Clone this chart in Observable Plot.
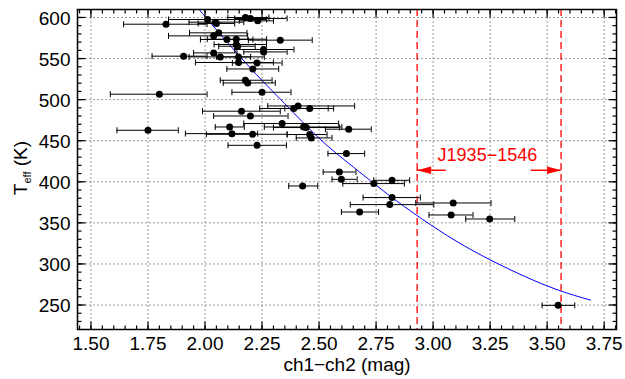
<!DOCTYPE html>
<html><head><meta charset="utf-8">
<script src="https://cdn.jsdelivr.net/npm/d3@7"></script>
<script src="https://cdn.jsdelivr.net/npm/@observablehq/plot@0.6"></script>
<style>
html,body{margin:0;padding:0;background:#fff;}
#chart{width:625px;height:379px;}
</style></head><body><div id="chart"></div>
<script>
// ch1-ch2 colour (mag), Teff (K), error bar extents
const color = [1.829,2.011,2.045,2.050,2.177,2.199,2.231,2.060,2.038,2.096,2.137,2.330,2.137,2.143,2.257,2.257,1.906,2.038,2.067,2.147,2.147,2.228,2.210,2.177,2.187,1.800,2.250,2.408,2.389,2.459,2.160,2.199,2.338,2.432,2.444,2.630,2.108,2.118,2.209,2.459,2.466,2.228,2.620,2.589,2.598,2.428,2.740,2.820,2.820,2.810,3.088,2.678,3.079,3.248,3.548,1.750];
const teff = [591.8,597.5,594.3,592.7,600.0,598.8,595.9,581.3,577.6,573.2,573.6,572.4,567.1,565.0,561.0,558.1,552.9,556.9,552.0,552.0,545.2,544.7,537.3,523.6,520.3,506.6,509.0,492.3,489.2,489.2,485.9,480.1,470.9,466.7,466.0,464.0,466.7,458.6,457.8,457.5,453.4,444.4,434.3,411.9,403.0,394.9,397.8,401.8,380.8,372.2,374.2,363.2,359.6,354.7,249.6,462.7];
const colorLo = [1.643,1.840,1.93,1.97,2.10,2.13,2.15,1.932,1.840,1.98,2.01,2.19,2.04,2.06,2.13,2.17,1.768,1.95,1.93,2.05,1.958,2.12,2.096,2.067,2.08,1.585,2.118,2.275,2.24,2.35,1.989,2.038,2.17,2.26,2.30,2.528,2.045,1.914,2.006,2.36,2.40,2.101,2.539,2.518,2.557,2.367,2.604,2.740,2.693,2.637,2.924,2.598,2.982,3.143,3.478,1.614];
const colorHi = [2.009,2.270,2.17,2.13,2.28,2.36,2.30,2.184,2.187,2.21,2.27,2.47,2.27,2.22,2.39,2.36,2.009,2.14,2.20,2.26,2.30,2.338,2.323,2.294,2.308,2.009,2.377,2.656,2.54,2.564,2.33,2.364,2.586,2.60,2.59,2.729,2.172,2.231,2.36,2.535,2.557,2.357,2.700,2.662,2.667,2.494,2.874,2.897,2.944,3.003,3.254,2.761,3.175,3.358,3.621,1.883];

// fitted relation
const fitColor = [1.97,2.05,2.15,2.25,2.35,2.50,2.65,2.80,2.95,3.10,3.25,3.40,3.55,3.69];
const fitTeff  = [611,585,553.5,523.4,495,453,418,385,355,328,305,285,268,256];

// J1935-1546 colour range markers
const markerColor = [2.930, 3.561];
const markerLabel = "J1935\u22121546";
const labelColor = 3.238, labelTeff = 432;
const arrowTeff = 414;
const leftArrow = [3.058, 2.930];
const rightArrow = [3.430, 3.561];

// axes
const xTickValues = [1.50,1.75,2.00,2.25,2.50,2.75,3.00,3.25,3.50,3.75];
const yTickValues = [250,300,350,400,450,500,550,600];
const xMinor = d3.range(29,77).map(i => i*0.05);
const yMinor = d3.range(23,61).map(i => i*10);
const xTitle = "ch1\u2212ch2 (mag)";

const rows = color.map((c,i) => ({c, t: teff[i], lo: colorLo[i], hi: colorHi[i]}));
const fit = fitColor.map((c,i) => ({c, t: fitTeff[i]}));

const line = (dx1,dy1,dx2,dy2) => ({draw(ctx){ctx.moveTo(dx1,dy1); ctx.lineTo(dx2,dy2);}});
const tri = (dir) => ({draw(ctx){ctx.moveTo(0,0); ctx.lineTo(dir*14,-3.8); ctx.lineTo(dir*14,3.8); ctx.closePath();}});
const tickOpts = {fill: "none", stroke: "black", strokeWidth: 1.2};

const plot = Plot.plot({
  width: 625, height: 379,
  marginLeft: 77, marginRight: 9, marginTop: 9, marginBottom: 50,
  x: {domain: [1.441, 3.804], axis: null},
  y: {domain: [220.2, 609.7], axis: null},
  style: {fontFamily: "'Liberation Sans', Arial, Helvetica, sans-serif", background: "white", color: "black"},
  marks: [
    Plot.ruleX(xTickValues, {x: d => d, stroke: "#9a9a9a", strokeDasharray: "2,2"}),
    Plot.ruleY(yTickValues, {y: d => d, stroke: "#9a9a9a", strokeDasharray: "2,2"}),
    Plot.line(fit, {x: "c", y: "t", curve: "natural", stroke: "#0000ff", strokeWidth: 1, clip: true}),
    Plot.ruleX(markerColor, {x: d => d, stroke: "#ff0000", strokeWidth: 1.3, strokeDasharray: "7,4"}),
    Plot.ruleY(rows, {y: "t", x1: "lo", x2: "hi", stroke: "black", strokeWidth: 1}),
    Plot.dot(rows, {x: "lo", y: "t", symbol: line(0,-3,0,3), fill: "none", stroke: "black", strokeWidth: 1}),
    Plot.dot(rows, {x: "hi", y: "t", symbol: line(0,-3,0,3), fill: "none", stroke: "black", strokeWidth: 1}),
    Plot.dot(rows, {x: "c", y: "t", r: 3.5, fill: "black", stroke: "none"}),
    Plot.ruleY([arrowTeff], {y: d => d, x1: leftArrow[0], x2: leftArrow[1], stroke: "#ff0000", strokeWidth: 1.5}),
    Plot.ruleY([arrowTeff], {y: d => d, x1: rightArrow[0], x2: rightArrow[1], stroke: "#ff0000", strokeWidth: 1.5}),
    Plot.dot([arrowTeff], {x: () => leftArrow[1], y: d => d, symbol: tri(1), fill: "#ff0000", stroke: "none"}),
    Plot.dot([arrowTeff], {x: () => rightArrow[1], y: d => d, symbol: tri(-1), fill: "#ff0000", stroke: "none"}),
    Plot.text([markerLabel], {x: () => labelColor, y: () => labelTeff, text: d => d, fill: "#ff0000", fontSize: 18}),
    // ticks inward on all four sides
    Plot.dot(xTickValues, {x: d => d, frameAnchor: "bottom", symbol: line(0,0,0,-8), ...tickOpts}),
    Plot.dot(xTickValues, {x: d => d, frameAnchor: "top", symbol: line(0,0,0,8), ...tickOpts}),
    Plot.dot(xMinor, {x: d => d, frameAnchor: "bottom", symbol: line(0,0,0,-4), ...tickOpts}),
    Plot.dot(xMinor, {x: d => d, frameAnchor: "top", symbol: line(0,0,0,4), ...tickOpts}),
    Plot.dot(yTickValues, {y: d => d, frameAnchor: "left", symbol: line(0,0,8,0), ...tickOpts}),
    Plot.dot(yTickValues, {y: d => d, frameAnchor: "right", symbol: line(0,0,-8,0), ...tickOpts}),
    Plot.dot(yMinor, {y: d => d, frameAnchor: "left", symbol: line(0,0,4,0), ...tickOpts}),
    Plot.dot(yMinor, {y: d => d, frameAnchor: "right", symbol: line(0,0,-4,0), ...tickOpts}),
    Plot.frame({stroke: "black", strokeWidth: 1.5}),
    // tick labels and titles
    Plot.text(xTickValues, {x: d => d, frameAnchor: "bottom", dy: 20, text: d => d.toFixed(2), fontSize: 19, fill: "black"}),
    Plot.text(yTickValues, {y: d => d, frameAnchor: "left", dx: -7, dy: 1, textAnchor: "end", text: d => String(d), fontSize: 19, fill: "black"}),
    Plot.text([xTitle], {frameAnchor: "bottom", dy: 41, text: d => d, fontSize: 19, fill: "black"})
  ]
});

const svg = d3.select(plot);
const yt = svg.append("text")
  .attr("transform", "translate(27,168) rotate(-90)")
  .attr("text-anchor", "middle")
  .attr("font-size", 19)
  .style("fill", "black");
yt.append("tspan").text("T");
yt.append("tspan").attr("font-size", 11).attr("dy", 4).text("eff");
yt.append("tspan").attr("dy", -4).text(" (K)");

document.getElementById("chart").appendChild(plot);
</script>
</body></html>
